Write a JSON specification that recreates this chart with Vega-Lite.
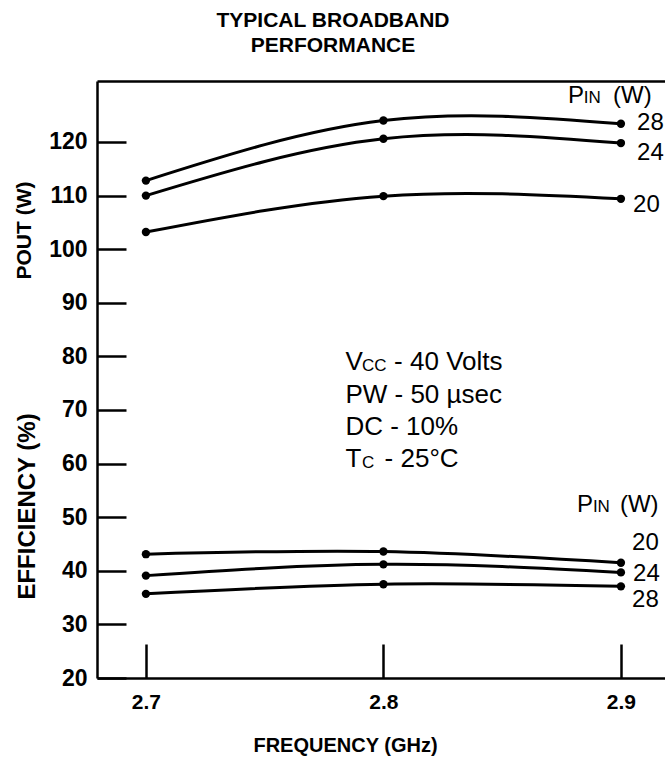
{
  "$schema": "https://vega.github.io/schema/vega-lite/v6.json",
  "width": 568,
  "height": 597,
  "autosize": "none",
  "padding": {"left": 97, "top": 81, "right": 0, "bottom": 83},
  "background": "white",
  "config": {"view": {"stroke": null}, "axis": {"grid": false}},
  "title": {
    "text": ["TYPICAL  BROADBAND", "PERFORMANCE"],
    "anchor": "middle",
    "frame": "group",
    "dx": -48,
    "offset": 4,
    "font": "Liberation Sans",
    "fontSize": 21,
    "fontWeight": "bold",
    "color": "black",
    "lineHeight": 25,
    "baseline": "bottom"
  },
  "datasets": {
    "curves": [
      {"panel": "pout", "pin": 28, "freq": 2.7, "value": 112.8},
      {"panel": "pout", "pin": 28, "freq": 2.8, "value": 124.0},
      {"panel": "pout", "pin": 28, "freq": 2.9, "value": 123.4},
      {"panel": "pout", "pin": 24, "freq": 2.7, "value": 110.0},
      {"panel": "pout", "pin": 24, "freq": 2.8, "value": 120.6},
      {"panel": "pout", "pin": 24, "freq": 2.9, "value": 119.8},
      {"panel": "pout", "pin": 20, "freq": 2.7, "value": 103.2},
      {"panel": "pout", "pin": 20, "freq": 2.8, "value": 109.9},
      {"panel": "pout", "pin": 20, "freq": 2.9, "value": 109.4},
      {"panel": "eff", "pin": 20, "freq": 2.7, "value": 43.1},
      {"panel": "eff", "pin": 20, "freq": 2.8, "value": 43.6},
      {"panel": "eff", "pin": 20, "freq": 2.9, "value": 41.5},
      {"panel": "eff", "pin": 24, "freq": 2.7, "value": 39.1},
      {"panel": "eff", "pin": 24, "freq": 2.8, "value": 41.2},
      {"panel": "eff", "pin": 24, "freq": 2.9, "value": 39.7},
      {"panel": "eff", "pin": 28, "freq": 2.7, "value": 35.7},
      {"panel": "eff", "pin": 28, "freq": 2.8, "value": 37.5},
      {"panel": "eff", "pin": 28, "freq": 2.9, "value": 37.1}
    ],
    "notes": [
      {"text": "V", "freq": 2.784, "value": 77.46},
      {"text": "- 40 Volts", "freq": 2.8045, "value": 77.46},
      {"text": "PW - 50 µsec", "freq": 2.784, "value": 71.25},
      {"text": "DC - 10%", "freq": 2.784, "value": 65.34},
      {"text": "T", "freq": 2.784, "value": 59.42},
      {"text": "- 25°C", "freq": 2.8005, "value": 59.42}
    ],
    "labels": [
      {"text": "P", "freq": 2.8777, "value": 127.22},
      {"text": "(W)", "freq": 2.8967, "value": 127.22},
      {"text": "28", "freq": 2.9068, "value": 122.24},
      {"text": "24", "freq": 2.9068, "value": 116.64},
      {"text": "20", "freq": 2.9051, "value": 107.0},
      {"text": "P", "freq": 2.8815, "value": 51.03},
      {"text": "(W)", "freq": 2.8996, "value": 51.03},
      {"text": "20", "freq": 2.9047, "value": 43.88},
      {"text": "24", "freq": 2.9051, "value": 38.1},
      {"text": "28", "freq": 2.9047, "value": 33.3}
    ],
    "subs": [
      {"text": "CC", "freq": 2.791, "value": 77.2},
      {"text": "C", "freq": 2.791, "value": 59.1},
      {"text": "IN", "freq": 2.8844, "value": 127.22},
      {"text": "IN", "freq": 2.8882, "value": 51.03}
    ]
  },
  "layer": [
    {
      "data": {"name": "curves"},
      "mark": {"type": "line", "interpolate": "natural", "color": "black", "strokeWidth": 3},
      "encoding": {
        "detail": [{"field": "panel"}, {"field": "pin"}],
        "x": {
          "field": "freq", "type": "quantitative",
          "scale": {"domain": [2.6794, 2.91856], "nice": false, "zero": false},
          "axis": {
            "orient": "bottom",
            "values": [2.7, 2.8, 2.9],
            "format": ".1f",
            "tickSize": -34,
            "tickWidth": 2.5,
            "tickColor": "black",
            "domainWidth": 2.5,
            "domainColor": "black",
            "labelFont": "Liberation Sans",
            "labelFontSize": 21,
            "labelFontWeight": "bold",
            "labelColor": "black",
            "labelPadding": 47,
            "labelFlush": false,
            "title": "FREQUENCY (GHz)",
            "titleFont": "Liberation Sans",
            "titleFontSize": 20,
            "titleFontWeight": "bold",
            "titleColor": "black",
            "titleX": 248,
            "titleY": 67,
            "titleAlign": "center",
            "titleBaseline": "middle"
          }
        },
        "y": {
          "field": "value", "type": "quantitative",
          "scale": {"domain": [20, 131.38], "nice": false, "zero": false},
          "axis": {
            "orient": "left",
            "values": [20, 30, 40, 50, 60, 70, 80, 90, 100, 110, 120],
            "tickSize": -29,
            "tickWidth": 2.5,
            "tickColor": "black",
            "domainWidth": 2.5,
            "domainColor": "black",
            "labelFont": "Liberation Sans",
            "labelFontSize": 23,
            "labelFontWeight": "bold",
            "labelColor": "black",
            "labelPadding": 39,
            "labelFlush": false,
            "title": "POUT (W)",
            "titleFont": "Liberation Sans",
            "titleFontSize": 21,
            "titleFontWeight": "bold",
            "titleColor": "black",
            "titleX": -73,
            "titleY": 149,
            "titleAngle": -90,
            "titleAlign": "center",
            "titleBaseline": "middle"
          }
        }
      }
    },
    {
      "data": {"name": "curves"},
      "mark": {"type": "point", "filled": true, "size": 70, "color": "black", "opacity": 1},
      "encoding": {
        "x": {
          "field": "freq", "type": "quantitative",
          "scale": {"domain": [2.6794, 2.91856], "nice": false, "zero": false},
          "axis": {"orient": "top", "labels": false, "ticks": false, "domainWidth": 2.5, "domainColor": "black", "title": null}
        },
        "y": {
          "field": "value", "type": "quantitative",
          "scale": {"domain": [20, 131.38], "nice": false, "zero": false},
          "axis": {
            "orient": "left",
            "labels": false,
            "ticks": false,
            "domain": false,
            "title": "EFFICIENCY (%)",
            "titleFont": "Liberation Sans",
            "titleFontSize": 24,
            "titleFontWeight": "bold",
            "titleColor": "black",
            "titleX": -70,
            "titleY": 425,
            "titleAngle": -90,
            "titleAlign": "center",
            "titleBaseline": "middle"
          }
        }
      }
    },
    {
      "data": {"name": "notes"},
      "mark": {"type": "text", "align": "left", "baseline": "alphabetic", "font": "Liberation Sans", "fontSize": 26, "color": "black"},
      "encoding": {
        "x": {"field": "freq", "type": "quantitative", "scale": {"domain": [2.6794, 2.91856], "nice": false, "zero": false}, "axis": null},
        "y": {"field": "value", "type": "quantitative", "scale": {"domain": [20, 131.38], "nice": false, "zero": false}, "axis": null},
        "text": {"field": "text"}
      }
    },
    {
      "data": {"name": "labels"},
      "mark": {"type": "text", "align": "left", "baseline": "alphabetic", "font": "Liberation Sans", "fontSize": 24, "color": "black"},
      "encoding": {
        "x": {"field": "freq", "type": "quantitative", "scale": {"domain": [2.6794, 2.91856], "nice": false, "zero": false}, "axis": null},
        "y": {"field": "value", "type": "quantitative", "scale": {"domain": [20, 131.38], "nice": false, "zero": false}, "axis": null},
        "text": {"field": "text"}
      }
    },
    {
      "data": {"name": "subs"},
      "mark": {"type": "text", "align": "left", "baseline": "alphabetic", "font": "Liberation Sans", "fontSize": 17, "color": "black"},
      "encoding": {
        "x": {"field": "freq", "type": "quantitative", "scale": {"domain": [2.6794, 2.91856], "nice": false, "zero": false}, "axis": null},
        "y": {"field": "value", "type": "quantitative", "scale": {"domain": [20, 131.38], "nice": false, "zero": false}, "axis": null},
        "text": {"field": "text"}
      }
    }
  ],
  "resolve": {"axis": {"x": "independent", "y": "independent"}}
}
